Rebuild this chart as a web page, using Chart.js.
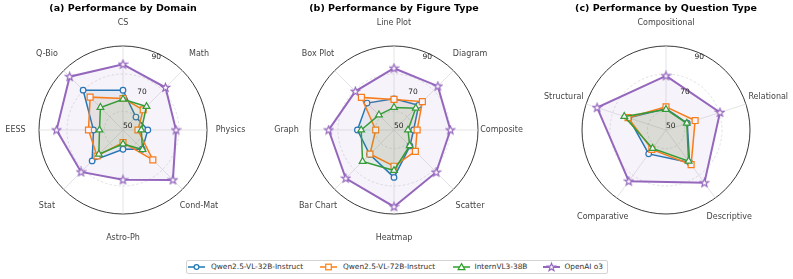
<!DOCTYPE html>
<html><head><meta charset="utf-8">
<script src="https://cdn.jsdelivr.net/npm/chart.js@4.4.1/dist/chart.umd.min.js"></script>
<style>
html,body{margin:0;padding:0;width:793px;height:279px;overflow:hidden;background:#fff;font-family:"DejaVu Sans",sans-serif;}
canvas.c{position:absolute;top:0;}
#legend{position:absolute;left:186px;top:260px;width:420px;height:12px;border:1px solid #d4d4d4;border-radius:2px;background:#fff;}
.ic{position:absolute;top:0;}
.tx{position:absolute;top:0;height:12px;line-height:12px;font-size:7.4px;color:#333;white-space:nowrap;}
</style></head><body>
<canvas id="c0" class="c" width="264" height="279" style="left:-9px"></canvas>
<canvas id="c1" class="c" width="264" height="279" style="left:262px"></canvas>
<canvas id="c2" class="c" width="264" height="279" style="left:534px"></canvas>
<div id="legend"></div>
<script>
// ---- data ----
const seriesNames = ['Qwen2.5-VL-32B-Instruct','Qwen2.5-VL-72B-Instruct','InternVL3-38B','OpenAI o3'];
const radialTicks = [50, 70, 90];

const domainLabels = ['CS','Math','Physics','Cond-Mat','Astro-Ph','Stat','EESS','Q-Bio'];
const domainQwen32 = [71.3, 59.8, 63.3, 64.6, 60.3, 73.4, 65.8, 80.2];
const domainQwen72 = [66.9, 65.3, 58.0, 72.6, 56.8, 69.7, 68.5, 74.9];
const domainIntern = [66.5, 67.8, 59.8, 64.8, 57.5, 68.3, 62.6, 67.1];
const domainO3     = [85.2, 82.2, 78.4, 87.8, 76.7, 81.8, 85.6, 90.4];

const figLabels = ['Line Plot','Diagram','Composite','Scatter','Heatmap','Bar Chart','Graph','Box Plot'];
const figQwen32 = [66.7, 68.7, 60.5, 62.1, 75.4, 68.5, 69.6, 70.4];
const figQwen72 = [66.4, 71.5, 62.4, 66.2, 69.4, 68.2, 59.8, 74.7];
const figIntern = [62.1, 66.5, 57.5, 61.9, 71.7, 73.8, 67.6, 61.4];
const figO3     = [83.1, 83.2, 80.2, 82.0, 91.1, 86.6, 85.0, 79.3];

const qLabels = ['Compositional','Relational','Descriptive','Comparative','Structural'];
const qQwen32 = [61.5, 62.0, 71.5, 65.8, 71.0];
const qQwen72 = [62.4, 66.4, 72.9, 62.9, 71.4];
const qIntern = [61.0, 61.7, 70.6, 62.2, 73.5];
const qO3     = [79.0, 80.4, 85.0, 83.9, 88.8];

const titles = ['(a) Performance by Domain','(b) Performance by Figure Type','(c) Performance by Question Type'];

// ---- styles ----
const colors = ['#1f77b4','#ff7f0e','#2ca02c','#9467bd'];
const fills = ['rgba(31,119,180,0.08)','rgba(255,127,14,0.08)','rgba(44,160,44,0.08)','rgba(148,103,189,0.08)'];

function starCanvas(color){
  const c=document.createElement('canvas'); c.width=11; c.height=11;
  const x=c.getContext('2d'); const cx=5.5, cy=5.7, R=4.3, r=1.8;
  x.beginPath();
  for(let i=0;i<10;i++){const a=-Math.PI/2+i*Math.PI/5; const rr=i%2?r:R; x.lineTo(cx+rr*Math.cos(a), cy+rr*Math.sin(a));}
  x.closePath(); x.fillStyle='#fff'; x.fill(); x.strokeStyle=color; x.lineWidth=1.2; x.lineJoin='miter'; x.stroke();
  return c;
}
const star = starCanvas(colors[3]);
const pStyles = ['circle','rect','triangle',star];
const pRadius = [2.8,4.2,3.9,4];
const lineW = [1.5,1.5,1.5,2];
const orders = [4,3,2,1];

const overlay = {
  id:'overlay',
  afterDraw(chart){
    const s = chart.scales.r; const ctx = chart.ctx;
    ctx.save();
    ctx.font = '8px "DejaVu Sans"'; ctx.fillStyle = '#444'; ctx.textAlign='center'; ctx.textBaseline='middle';
    chart.data.labels.forEach((lab,i)=>{ const p = s.getPointPosition(i, s.drawingArea + 23.5); ctx.fillText(lab, p.x, p.y); });
    ctx.font = '7.5px "DejaVu Sans"'; ctx.fillStyle = '#222'; ctx.textAlign='left'; ctx.textBaseline='bottom';
    const ang = -Math.PI/2 + 22.5*Math.PI/180;
    radialTicks.forEach(v=>{ const d = s.getDistanceFromCenterForValue(v); ctx.fillText(String(v), s.xCenter + d*Math.cos(ang), s.yCenter + d*Math.sin(ang)); });
    ctx.font = 'bold 9.5px "DejaVu Sans"'; ctx.fillStyle = '#000'; ctx.textAlign='center'; ctx.textBaseline='middle';
    ctx.fillText(chart.options.plugins.overlayTitle, s.xCenter, 8.5);
    ctx.restore();
  }
};

function makeChart(id, labels, series, title){
  const datasets = series.map((d,i)=>({
    label: seriesNames[i], data: d, borderColor: colors[i], backgroundColor: fills[i], fill: true,
    borderWidth: lineW[i], pointStyle: pStyles[i], pointRadius: pRadius[i], pointBorderWidth: 1.2,
    pointBackgroundColor: '#fff', pointBorderColor: colors[i], order: orders[i], tension: 0
  }));
  new Chart(document.getElementById(id), {
    type: 'radar',
    data: { labels, datasets },
    options: {
      responsive: false, animation: false, events: [],
      layout: { padding: { left: 48, right: 48, top: 46, bottom: 65 } },
      plugins: { legend: { display: false }, tooltip: { enabled: false }, overlayTitle: title },
      scales: { r: {
        min: 50, max: 95,
        ticks: { display: false, stepSize: 20 },
        pointLabels: { display: false },
        angleLines: { color: '#dddddd', lineWidth: 0.8 },
        grid: { circular: true, color: ctx => ctx.tick && ctx.tick.value >= 95 ? '#222' : '#d6d6d6', lineWidth: ctx => ctx.tick && ctx.tick.value >= 95 ? 0.9 : 0.7 },
        border: { dash: ctx => ctx.tick && ctx.tick.value >= 95 ? [] : [2.5,2] }
      } }
    },
    plugins: [overlay]
  });
}
makeChart('c0', domainLabels, [domainQwen32, domainQwen72, domainIntern, domainO3], titles[0]);
makeChart('c1', figLabels, [figQwen32, figQwen72, figIntern, figO3], titles[1]);
makeChart('c2', qLabels, [qQwen32, qQwen72, qIntern, qO3], titles[2]);

// ---- legend ----
const legIcon = [1, 133, 265.5, 355.5];
const legText = [24, 156, 287.5, 377.5];
const leg = document.getElementById('legend');
function markerSVG(i){
  const c = colors[i];
  const m = i===0 ? `<circle cx="8.5" cy="6" r="2.4" fill="#fff" stroke="${c}" stroke-width="1.2"/>`
    : i===1 ? `<rect x="5.7" y="3.2" width="5.6" height="5.6" fill="#fff" stroke="${c}" stroke-width="1.2"/>`
    : i===2 ? `<polygon points="8.5,2.6 11.9,8.6 5.1,8.6" fill="#fff" stroke="${c}" stroke-width="1.2"/>`
    : (()=>{let p=[];for(let k=0;k<10;k++){const a=-Math.PI/2+k*Math.PI/5;const rr=k%2?1.7:4.1;p.push((8.5+rr*Math.cos(a)).toFixed(2)+','+(6.3+rr*Math.sin(a)).toFixed(2));}return `<polygon points="${p.join(' ')}" fill="#fff" stroke="${c}" stroke-width="1.2"/>`;})();
  return `<svg width="17" height="12" style="display:block"><line x1="0" y1="6" x2="17" y2="6" stroke="${c}" stroke-width="${lineW[i]}"/>${m}</svg>`;
}
seriesNames.forEach((n,i)=>{
  const ic = document.createElement('div'); ic.className='ic'; ic.style.left=legIcon[i]+'px'; ic.innerHTML = markerSVG(i); leg.appendChild(ic);
  const t = document.createElement('div'); t.className='tx'; t.style.left=legText[i]+'px'; t.textContent = n; leg.appendChild(t);
});
</script>
</body></html>
